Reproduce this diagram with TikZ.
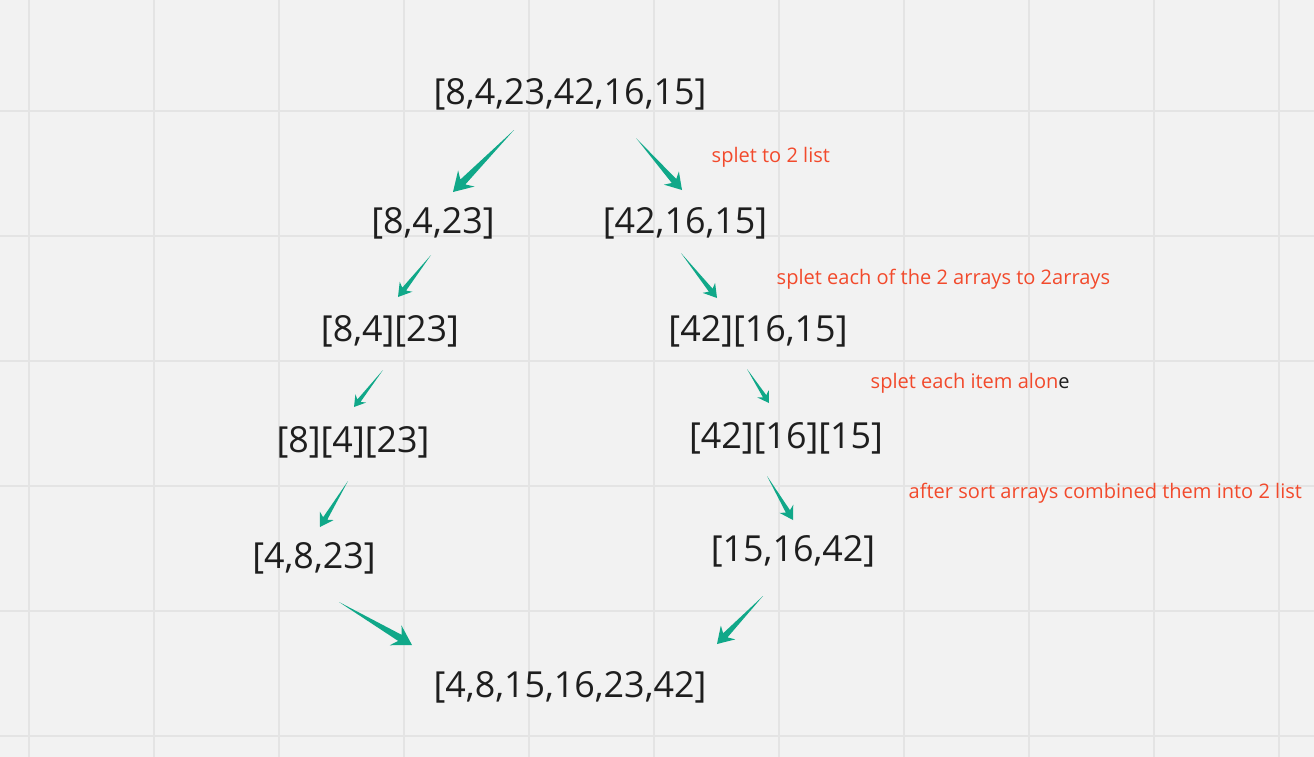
\documentclass[tikz,border=0pt]{standalone}
\usepackage{fontspec}
\setmainfont{Open Sans}
\usetikzlibrary{calc}

\definecolor{boardgray}{HTML}{F2F2F2}
\definecolor{gridgray}{HTML}{E4E4E4}
\definecolor{arrowteal}{HTML}{10A889}
\definecolor{notered}{HTML}{F24A2C}
\definecolor{listink}{HTML}{1E1E1E}

\tikzset{
  listnode/.style={text=listink, font=\fontsize{10.2}{12}\selectfont, inner sep=0pt},
  notenode/.style={text=notered, font=\fontsize{5.7}{6.8}\selectfont, inner sep=0pt, anchor=west},
  gridline/.style={draw=gridgray, line width=0.02cm},
}

% tapered arrow: from, to, shaft half width, head length, barb length, head half width
\newcommand{\splitarrow}[6]{%
  \coordinate (hj) at ($(#2)!#4!(#1)$);
  \coordinate (hb) at ($(#2)!#5!(#1)$);
  \fill[arrowteal] (#1) -- ($(hj)!#3!90:(#2)$) -- ($(hb)!#6!90:(#2)$) -- (#2)
    -- ($(hb)!#6!-90:(#2)$) -- ($(hj)!#3!-90:(#2)$) -- cycle;
}

\begin{document}
\begin{tikzpicture}[x=0.01cm, y=-0.01cm]
  % board
  \fill[boardgray] (0,0) rectangle (1314,757);
  \useasboundingbox (0,0) rectangle (1314,757);
  \foreach \gx in {29,154,...,1279}
    \draw[gridline] (\gx,0) -- (\gx,757);
  \foreach \gy in {111,236,...,736}
    \draw[gridline] (0,\gy) -- (1314,\gy);

  % lists
  \node[listnode] (start) at (570,94) {[8,4,23,42,16,15]};
  \node[listnode] (left1) at (433,223) {[8,4,23]};
  \node[listnode] (right1) at (685,223) {[42,16,15]};
  \node[listnode] (left2) at (390,331) {[8,4][23]};
  \node[listnode] (right2) at (758,331) {[42][16,15]};
  \node[listnode] (left3) at (353,442) {[8][4][23]};
  \node[listnode] (right3) at (786,438) {[42][16][15]};
  \node[listnode] (left4) at (314,558) {[4,8,23]};
  \node[listnode] (right4) at (793,551) {[15,16,42]};
  \node[listnode] (sorted) at (570,687) {[4,8,15,16,23,42]};

  % notes
  \node[notenode] (noteA) at (711,157) {splet to 2 list};
  \node[notenode] (noteB) at (776,279) {splet each of the 2 arrays to 2arrays};
  \node[notenode] (noteC) at (870,383) {splet each item alon\textcolor{listink}{e}};
  \node[notenode] (noteD) at (908,493) {after sort arrays combined them into 2 list};

  % arrow ends
  \coordinate (a1s) at (514,130); \coordinate (a1e) at (453,192);
  \coordinate (a2s) at (636,138); \coordinate (a2e) at (682,190);
  \coordinate (a3s) at (431,255); \coordinate (a3e) at (398,297);
  \coordinate (a4s) at (681,253); \coordinate (a4e) at (717,298);
  \coordinate (a5s) at (383,370); \coordinate (a5e) at (354,407);
  \coordinate (a6s) at (747,369); \coordinate (a6e) at (769,403);
  \coordinate (a7s) at (348,481); \coordinate (a7e) at (320,527);
  \coordinate (a8s) at (767,476); \coordinate (a8e) at (793,520);
  \coordinate (a9s) at (339,602); \coordinate (a9e) at (412,645);
  \coordinate (a10s) at (763,596); \coordinate (a10e) at (717,644);

  % arrows
  \splitarrow{a1s}{a1e}{0.035cm}{0.14cm}{0.19cm}{0.115cm}
  \splitarrow{a2s}{a2e}{0.03cm}{0.12cm}{0.16cm}{0.10cm}
  \splitarrow{a3s}{a3e}{0.024cm}{0.10cm}{0.13cm}{0.08cm}
  \splitarrow{a4s}{a4e}{0.024cm}{0.10cm}{0.13cm}{0.08cm}
  \splitarrow{a5s}{a5e}{0.02cm}{0.08cm}{0.11cm}{0.068cm}
  \splitarrow{a6s}{a6e}{0.02cm}{0.08cm}{0.11cm}{0.068cm}
  \splitarrow{a7s}{a7e}{0.024cm}{0.10cm}{0.13cm}{0.08cm}
  \splitarrow{a8s}{a8e}{0.024cm}{0.10cm}{0.13cm}{0.08cm}
  \splitarrow{a9s}{a9e}{0.035cm}{0.14cm}{0.19cm}{0.115cm}
  \splitarrow{a10s}{a10e}{0.03cm}{0.12cm}{0.16cm}{0.10cm}
\end{tikzpicture}
\end{document}
